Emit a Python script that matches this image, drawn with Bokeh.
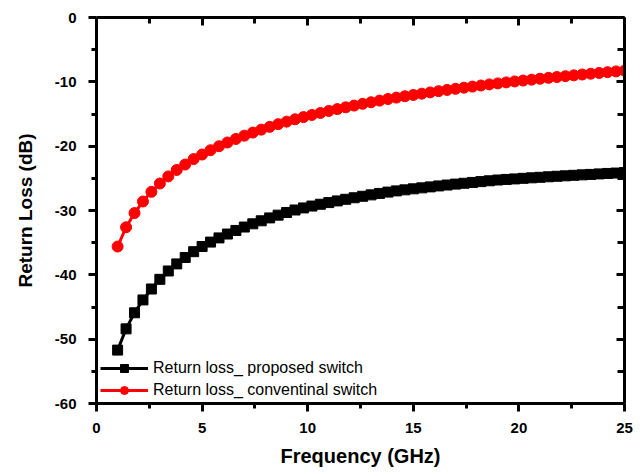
from bokeh.plotting import figure
from bokeh.models import Range1d, FixedTicker, LinearAxis, Legend, LegendItem
from bokeh.embed import file_html
from bokeh.resources import INLINE

freq = [1.0, 1.4, 1.8, 2.2, 2.6, 3.0, 3.4, 3.8, 4.2, 4.6, 5.0, 5.4, 5.8, 6.2, 6.6,
        7.0, 7.4, 7.8, 8.2, 8.6, 9.0, 9.4, 9.8, 10.2, 10.6, 11.0, 11.4, 11.8, 12.2,
        12.6, 13.0, 13.4, 13.8, 14.2, 14.6, 15.0, 15.4, 15.8, 16.2, 16.6, 17.0, 17.4,
        17.8, 18.2, 18.6, 19.0, 19.4, 19.8, 20.2, 20.6, 21.0, 21.4, 21.8, 22.2, 22.6,
        23.0, 23.4, 23.8, 24.2, 24.6, 25.0]

proposed = [-51.7, -48.4, -45.9, -43.9, -42.2, -40.7, -39.4, -38.3, -37.3, -36.4,
            -35.6, -34.91, -34.26, -33.66, -33.10, -32.57, -32.07, -31.60, -31.15,
            -30.72, -30.31, -29.92, -29.60, -29.31, -29.03, -28.77, -28.51, -28.26,
            -28.02, -27.79, -27.57, -27.35, -27.14, -26.95, -26.79, -26.63, -26.48,
            -26.33, -26.18, -26.04, -25.90, -25.77, -25.64, -25.51, -25.38, -25.26,
            -25.17, -25.09, -25.00, -24.92, -24.84, -24.76, -24.68, -24.61, -24.53,
            -24.46, -24.39, -24.31, -24.24, -24.18, -24.11]

conventional = [-35.6, -32.6, -30.4, -28.6, -27.1, -25.8, -24.7, -23.7, -22.85, -22.0,
                -21.3, -20.63, -20.01, -19.43, -18.88, -18.37, -17.89, -17.43, -17.0,
                -16.58, -16.19, -15.82, -15.48, -15.15, -14.84, -14.53, -14.24, -13.96,
                -13.69, -13.42, -13.17, -12.92, -12.67, -12.45, -12.24, -12.04, -11.84,
                -11.64, -11.45, -11.26, -11.08, -10.91, -10.74, -10.57, -10.40, -10.24,
                -10.09, -9.94, -9.80, -9.66, -9.52, -9.38, -9.25, -9.12, -8.99, -8.86,
                -8.74, -8.62, -8.50, -8.38, -8.26]

x_ticks = [0, 5, 10, 15, 20, 25]
x_minor = [2.5, 7.5, 12.5, 17.5, 22.5]
x_tick_labels = ["0", "5", "10", "15", "20", "25"]
y_ticks = [-60, -50, -40, -30, -20, -10, 0]
y_minor = [-55, -45, -35, -25, -15, -5]
y_tick_labels = ["-60", "-50", "-40", "-30", "-20", "-10", "0"]

series_names = ["Return loss_ proposed switch", "Return loss_ conventinal switch"]

FONT = "Liberation Sans"

p = figure(width=644, height=473, output_backend="svg", toolbar_location=None,
           x_range=Range1d(0, 25), y_range=Range1d(-60, 0),
           min_border_left=96, min_border_right=20, min_border_top=17,
           min_border_bottom=70)
p.outline_line_color = None
p.xgrid.grid_line_color = None
p.ygrid.grid_line_color = None
p.background_fill_color = "white"
p.border_fill_color = "white"

def style_axis(ax, ticks, minor, labels, show_labels, tick_out, tick_in, minor_out, minor_in):
    ax.ticker = FixedTicker(ticks=ticks, minor_ticks=minor)
    if show_labels:
        ax.major_label_overrides = {t: l for t, l in zip(ticks, labels)}
    else:
        ax.major_label_overrides = {t: "" for t in ticks}
    ax.axis_line_width = 3
    ax.axis_line_color = "black"
    ax.major_tick_line_width = 3
    ax.minor_tick_line_width = 3
    ax.major_tick_line_color = "black"
    ax.minor_tick_line_color = "black"
    ax.major_tick_out = tick_out
    ax.major_tick_in = tick_in
    ax.minor_tick_out = minor_out
    ax.minor_tick_in = minor_in
    ax.major_label_text_font = FONT
    ax.major_label_text_font_style = "bold"
    ax.major_label_text_font_size = "15px"
    ax.major_label_text_color = "black"

xa = p.xaxis[0]
style_axis(xa, x_ticks, x_minor, x_tick_labels, True, 8, 0, 5, 0)
xa.major_label_standoff = 11
xa.axis_label = "Frequency (GHz)"
xa.axis_label_text_font = FONT
xa.axis_label_text_font_style = "bold"
xa.axis_label_text_font_size = "20px"
xa.axis_label_text_color = "black"
xa.axis_label_standoff = 9

ya = p.yaxis[0]
style_axis(ya, y_ticks, y_minor, y_tick_labels, True, 8, 0, 5, 0)
ya.major_label_standoff = 12
ya.axis_label = "Return Loss (dB)"
ya.axis_label_text_font = FONT
ya.axis_label_text_font_style = "bold"
ya.axis_label_text_font_size = "19px"
ya.axis_label_text_color = "black"
ya.axis_label_standoff = 16

ra = LinearAxis()
style_axis(ra, y_ticks, y_minor, y_tick_labels, False, 0, 8, 0, 7)
ra.major_label_standoff = 0
p.add_layout(ra, "right")

ta = LinearAxis()
style_axis(ta, x_ticks, x_minor, x_tick_labels, False, 0, 8, 0, 6)
ta.major_label_standoff = 0
p.add_layout(ta, "above")

l1 = p.line(freq, proposed, line_color="black", line_width=3)
s1 = p.scatter(freq, proposed, marker="square", size=10, fill_color="black",
               line_color="black")
l2 = p.line(freq, conventional, line_color="red", line_width=3)
s2 = p.scatter(freq, conventional, marker="circle", size=11, fill_color="red",
               line_color="red")

legend = Legend(items=[LegendItem(label=series_names[0], renderers=[l1, s1]),
                       LegendItem(label=series_names[1], renderers=[l2, s2])],
                location=(4, 3), padding=0, margin=0, spacing=2,
                glyph_width=48, glyph_height=20, label_height=20,
                label_standoff=5, border_line_color=None,
                background_fill_alpha=0,
                label_text_font=FONT, label_text_font_size="16px",
                label_text_color="black")
p.add_layout(legend, "center")

open("out.html", "w").write(file_html(p, INLINE))
